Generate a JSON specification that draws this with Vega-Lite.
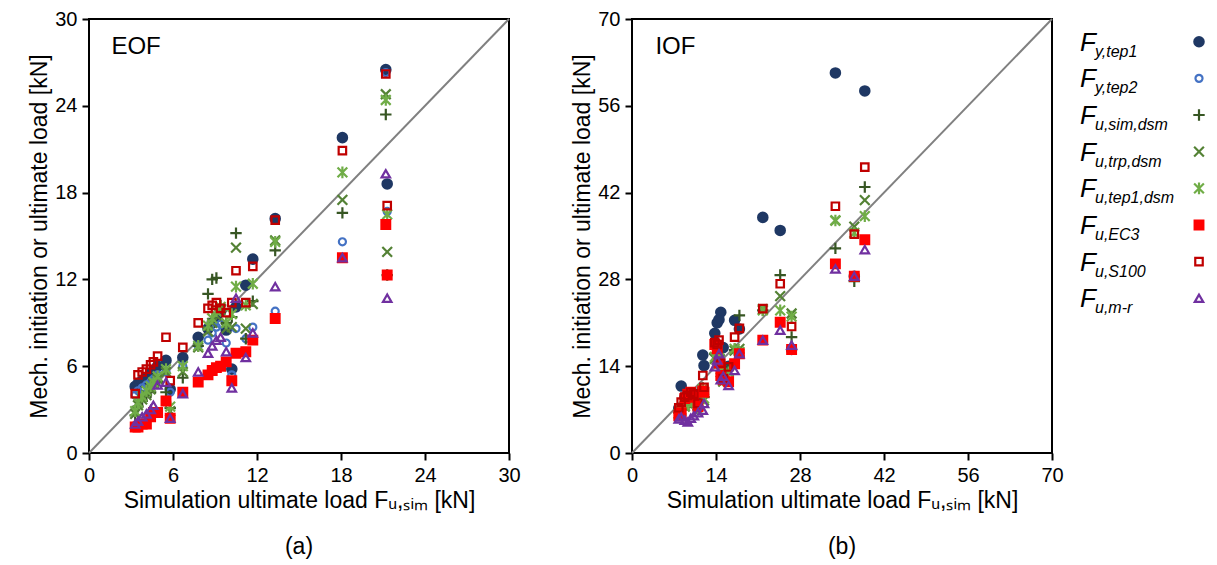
{
"$schema": "https://vega.github.io/schema/vega-lite/v6.json",
"padding": {"left": 27, "top": 8, "right": 0, "bottom": 0},
"background": "white",
"config": {
 "font": "Liberation Sans",
 "view": {"stroke": null},
 "axis": {"labelFont": "Liberation Sans", "titleFont": "Liberation Sans", "labelFontSize": 20, "titleFontSize": 23, "labelColor": "#000", "titleColor": "#000", "titleFontWeight": "normal", "grid": false, "domain": false, "tickColor": "#000", "tickWidth": 2, "tickSize": 7, "labelPadding": 5, "labelFlush": false, "labelOverlap": false},
 "title": {"font": "Liberation Sans", "fontSize": 23, "fontWeight": "normal", "color": "#000", "orient": "bottom", "anchor": "middle", "offset": 24},
 "text": {"font": "Liberation Sans", "color": "#000"}
},
"datasets": {
 "diag": [{"p": "a", "x0": 0, "y0": 0, "x1": 30, "y1": 30}, {"p": "b", "x0": 0, "y0": 0, "x1": 70, "y1": 70}],
 "lab": [{"p": "a", "t": "EOF", "x": 1.6, "y": 27.6}, {"p": "b", "t": "IOF", "x": 3.9, "y": 64.4}],
 "leg": [
  {"s": "Fy1", "sub": "y,tep1"}, {"s": "Fy2", "sub": "y,tep2"}, {"s": "Fsim", "sub": "u,sim,dsm"}, {"s": "Ftrp", "sub": "u,trp,dsm"},
  {"s": "Ftep", "sub": "u,tep1,dsm"}, {"s": "FEC3", "sub": "u,EC3"}, {"s": "FS100", "sub": "u,S100"}, {"s": "Fmr", "sub": "u,m-r"}
 ],
 "pts": [
{"p":"a","s":"Fy1","x":3.3,"y":4.6},{"p":"a","s":"Fy1","x":3.5,"y":4.8},{"p":"a","s":"Fy1","x":3.8,"y":5.0},{"p":"a","s":"Fy1","x":4.1,"y":5.2},{"p":"a","s":"Fy1","x":4.4,"y":5.5},{"p":"a","s":"Fy1","x":4.6,"y":5.7},{"p":"a","s":"Fy1","x":4.9,"y":6.0},{"p":"a","s":"Fy1","x":5.5,"y":6.4},{"p":"a","s":"Fy1","x":5.8,"y":4.4},{"p":"a","s":"Fy1","x":6.7,"y":6.6},{"p":"a","s":"Fy1","x":7.8,"y":8.0},{"p":"a","s":"Fy1","x":8.5,"y":8.6},{"p":"a","s":"Fy1","x":8.8,"y":9.0},{"p":"a","s":"Fy1","x":9.1,"y":9.4},{"p":"a","s":"Fy1","x":9.4,"y":9.8},{"p":"a","s":"Fy1","x":9.8,"y":8.5},{"p":"a","s":"Fy1","x":10.2,"y":5.8},{"p":"a","s":"Fy1","x":10.5,"y":10.1},{"p":"a","s":"Fy1","x":11.2,"y":11.6},{"p":"a","s":"Fy1","x":11.7,"y":13.4},{"p":"a","s":"Fy1","x":13.3,"y":16.2},{"p":"a","s":"Fy1","x":18.1,"y":21.8},{"p":"a","s":"Fy1","x":21.2,"y":26.5},{"p":"a","s":"Fy1","x":21.3,"y":18.6},
{"p":"a","s":"Fy2","x":3.3,"y":4.0},{"p":"a","s":"Fy2","x":3.5,"y":4.3},{"p":"a","s":"Fy2","x":3.8,"y":4.5},{"p":"a","s":"Fy2","x":4.1,"y":4.7},{"p":"a","s":"Fy2","x":4.4,"y":4.9},{"p":"a","s":"Fy2","x":4.6,"y":5.1},{"p":"a","s":"Fy2","x":4.9,"y":5.4},{"p":"a","s":"Fy2","x":5.5,"y":5.6},{"p":"a","s":"Fy2","x":5.8,"y":4.2},{"p":"a","s":"Fy2","x":6.7,"y":6.0},{"p":"a","s":"Fy2","x":7.8,"y":7.4},{"p":"a","s":"Fy2","x":8.5,"y":7.8},{"p":"a","s":"Fy2","x":8.8,"y":8.3},{"p":"a","s":"Fy2","x":9.1,"y":8.7},{"p":"a","s":"Fy2","x":9.4,"y":8.9},{"p":"a","s":"Fy2","x":9.8,"y":7.6},{"p":"a","s":"Fy2","x":10.2,"y":5.4},{"p":"a","s":"Fy2","x":10.5,"y":8.6},{"p":"a","s":"Fy2","x":11.2,"y":7.9},{"p":"a","s":"Fy2","x":11.7,"y":8.7},{"p":"a","s":"Fy2","x":13.3,"y":9.8},{"p":"a","s":"Fy2","x":18.1,"y":14.6},{"p":"a","s":"Fy2","x":21.2,"y":26.3},{"p":"a","s":"Fy2","x":21.3,"y":16.7},
{"p":"a","s":"Fsim","x":3.3,"y":2.6},{"p":"a","s":"Fsim","x":3.5,"y":3.2},{"p":"a","s":"Fsim","x":3.8,"y":3.6},{"p":"a","s":"Fsim","x":4.1,"y":4.0},{"p":"a","s":"Fsim","x":4.4,"y":4.2},{"p":"a","s":"Fsim","x":4.6,"y":4.6},{"p":"a","s":"Fsim","x":4.9,"y":4.9},{"p":"a","s":"Fsim","x":5.5,"y":4.2},{"p":"a","s":"Fsim","x":5.8,"y":3.1},{"p":"a","s":"Fsim","x":6.7,"y":5.2},{"p":"a","s":"Fsim","x":7.8,"y":7.4},{"p":"a","s":"Fsim","x":8.5,"y":11.0},{"p":"a","s":"Fsim","x":8.8,"y":12.0},{"p":"a","s":"Fsim","x":9.1,"y":12.1},{"p":"a","s":"Fsim","x":9.4,"y":10.2},{"p":"a","s":"Fsim","x":9.8,"y":9.0},{"p":"a","s":"Fsim","x":10.2,"y":9.4},{"p":"a","s":"Fsim","x":10.5,"y":15.2},{"p":"a","s":"Fsim","x":11.2,"y":7.9},{"p":"a","s":"Fsim","x":11.7,"y":10.5},{"p":"a","s":"Fsim","x":13.3,"y":14.0},{"p":"a","s":"Fsim","x":18.1,"y":16.6},{"p":"a","s":"Fsim","x":21.2,"y":23.4},{"p":"a","s":"Fsim","x":21.3,"y":12.3},
{"p":"a","s":"Ftrp","x":3.3,"y":2.7},{"p":"a","s":"Ftrp","x":3.5,"y":3.3},{"p":"a","s":"Ftrp","x":3.8,"y":3.7},{"p":"a","s":"Ftrp","x":4.1,"y":4.0},{"p":"a","s":"Ftrp","x":4.4,"y":4.4},{"p":"a","s":"Ftrp","x":4.6,"y":4.8},{"p":"a","s":"Ftrp","x":4.9,"y":5.1},{"p":"a","s":"Ftrp","x":5.5,"y":5.6},{"p":"a","s":"Ftrp","x":5.8,"y":2.9},{"p":"a","s":"Ftrp","x":6.7,"y":5.6},{"p":"a","s":"Ftrp","x":7.8,"y":7.3},{"p":"a","s":"Ftrp","x":8.5,"y":8.4},{"p":"a","s":"Ftrp","x":8.8,"y":9.0},{"p":"a","s":"Ftrp","x":9.1,"y":9.5},{"p":"a","s":"Ftrp","x":9.4,"y":9.9},{"p":"a","s":"Ftrp","x":9.8,"y":8.6},{"p":"a","s":"Ftrp","x":10.2,"y":8.7},{"p":"a","s":"Ftrp","x":10.5,"y":14.2},{"p":"a","s":"Ftrp","x":11.2,"y":8.6},{"p":"a","s":"Ftrp","x":11.7,"y":10.3},{"p":"a","s":"Ftrp","x":13.3,"y":14.7},{"p":"a","s":"Ftrp","x":18.1,"y":17.5},{"p":"a","s":"Ftrp","x":21.2,"y":24.8},{"p":"a","s":"Ftrp","x":21.3,"y":13.9},
{"p":"a","s":"Ftep","x":3.3,"y":2.9},{"p":"a","s":"Ftep","x":3.5,"y":3.5},{"p":"a","s":"Ftep","x":3.8,"y":3.9},{"p":"a","s":"Ftep","x":4.1,"y":4.3},{"p":"a","s":"Ftep","x":4.4,"y":4.6},{"p":"a","s":"Ftep","x":4.6,"y":4.9},{"p":"a","s":"Ftep","x":4.9,"y":5.3},{"p":"a","s":"Ftep","x":5.5,"y":5.8},{"p":"a","s":"Ftep","x":5.8,"y":3.2},{"p":"a","s":"Ftep","x":6.7,"y":6.0},{"p":"a","s":"Ftep","x":7.8,"y":7.4},{"p":"a","s":"Ftep","x":8.5,"y":8.8},{"p":"a","s":"Ftep","x":8.8,"y":9.3},{"p":"a","s":"Ftep","x":9.1,"y":9.8},{"p":"a","s":"Ftep","x":9.4,"y":10.1},{"p":"a","s":"Ftep","x":9.8,"y":9.0},{"p":"a","s":"Ftep","x":10.2,"y":9.6},{"p":"a","s":"Ftep","x":10.5,"y":11.5},{"p":"a","s":"Ftep","x":11.2,"y":10.2},{"p":"a","s":"Ftep","x":11.7,"y":11.7},{"p":"a","s":"Ftep","x":13.3,"y":14.6},{"p":"a","s":"Ftep","x":18.1,"y":19.4},{"p":"a","s":"Ftep","x":21.2,"y":24.4},{"p":"a","s":"Ftep","x":21.3,"y":16.5},
{"p":"a","s":"FEC3","x":3.3,"y":1.8},{"p":"a","s":"FEC3","x":3.5,"y":1.8},{"p":"a","s":"FEC3","x":3.8,"y":2.0},{"p":"a","s":"FEC3","x":4.1,"y":2.0},{"p":"a","s":"FEC3","x":4.4,"y":2.5},{"p":"a","s":"FEC3","x":4.6,"y":2.8},{"p":"a","s":"FEC3","x":4.9,"y":2.8},{"p":"a","s":"FEC3","x":5.5,"y":3.6},{"p":"a","s":"FEC3","x":5.8,"y":2.4},{"p":"a","s":"FEC3","x":6.7,"y":4.2},{"p":"a","s":"FEC3","x":7.8,"y":4.9},{"p":"a","s":"FEC3","x":8.5,"y":5.4},{"p":"a","s":"FEC3","x":8.8,"y":5.7},{"p":"a","s":"FEC3","x":9.1,"y":5.9},{"p":"a","s":"FEC3","x":9.4,"y":6.0},{"p":"a","s":"FEC3","x":9.8,"y":6.3},{"p":"a","s":"FEC3","x":10.2,"y":5.0},{"p":"a","s":"FEC3","x":10.5,"y":6.9},{"p":"a","s":"FEC3","x":11.2,"y":7.0},{"p":"a","s":"FEC3","x":11.7,"y":7.8},{"p":"a","s":"FEC3","x":13.3,"y":9.3},{"p":"a","s":"FEC3","x":18.1,"y":13.5},{"p":"a","s":"FEC3","x":21.2,"y":15.8},{"p":"a","s":"FEC3","x":21.3,"y":12.3},
{"p":"a","s":"FS100","x":3.3,"y":4.1},{"p":"a","s":"FS100","x":3.5,"y":5.4},{"p":"a","s":"FS100","x":3.8,"y":5.6},{"p":"a","s":"FS100","x":4.1,"y":5.8},{"p":"a","s":"FS100","x":4.4,"y":6.1},{"p":"a","s":"FS100","x":4.6,"y":6.3},{"p":"a","s":"FS100","x":4.9,"y":6.7},{"p":"a","s":"FS100","x":5.5,"y":8.0},{"p":"a","s":"FS100","x":5.8,"y":5.0},{"p":"a","s":"FS100","x":6.7,"y":7.3},{"p":"a","s":"FS100","x":7.8,"y":9.0},{"p":"a","s":"FS100","x":8.5,"y":10.0},{"p":"a","s":"FS100","x":8.8,"y":10.2},{"p":"a","s":"FS100","x":9.1,"y":10.4},{"p":"a","s":"FS100","x":9.4,"y":10.0},{"p":"a","s":"FS100","x":9.8,"y":9.7},{"p":"a","s":"FS100","x":10.2,"y":10.4},{"p":"a","s":"FS100","x":10.5,"y":12.6},{"p":"a","s":"FS100","x":11.2,"y":10.4},{"p":"a","s":"FS100","x":11.7,"y":12.9},{"p":"a","s":"FS100","x":13.3,"y":16.1},{"p":"a","s":"FS100","x":18.1,"y":20.9},{"p":"a","s":"FS100","x":21.2,"y":26.2},{"p":"a","s":"FS100","x":21.3,"y":17.1},
{"p":"a","s":"Fmr","x":3.3,"y":2.0},{"p":"a","s":"Fmr","x":3.5,"y":2.2},{"p":"a","s":"Fmr","x":3.8,"y":2.5},{"p":"a","s":"Fmr","x":4.1,"y":2.7},{"p":"a","s":"Fmr","x":4.4,"y":3.0},{"p":"a","s":"Fmr","x":4.6,"y":3.3},{"p":"a","s":"Fmr","x":4.9,"y":4.7},{"p":"a","s":"Fmr","x":5.5,"y":4.9},{"p":"a","s":"Fmr","x":5.8,"y":2.4},{"p":"a","s":"Fmr","x":6.7,"y":4.1},{"p":"a","s":"Fmr","x":7.8,"y":5.6},{"p":"a","s":"Fmr","x":8.5,"y":6.9},{"p":"a","s":"Fmr","x":8.8,"y":7.4},{"p":"a","s":"Fmr","x":9.1,"y":7.8},{"p":"a","s":"Fmr","x":9.4,"y":8.0},{"p":"a","s":"Fmr","x":9.8,"y":7.0},{"p":"a","s":"Fmr","x":10.2,"y":4.5},{"p":"a","s":"Fmr","x":10.5,"y":10.7},{"p":"a","s":"Fmr","x":11.2,"y":6.6},{"p":"a","s":"Fmr","x":11.7,"y":8.3},{"p":"a","s":"Fmr","x":13.3,"y":11.5},{"p":"a","s":"Fmr","x":18.1,"y":13.5},{"p":"a","s":"Fmr","x":21.2,"y":19.3},{"p":"a","s":"Fmr","x":21.3,"y":10.7},
{"p":"b","s":"Fy1","x":7.8,"y":7.2},{"p":"b","s":"Fy1","x":8.2,"y":10.8},{"p":"b","s":"Fy1","x":8.8,"y":9.0},{"p":"b","s":"Fy1","x":9.3,"y":9.5},{"p":"b","s":"Fy1","x":9.8,"y":9.0},{"p":"b","s":"Fy1","x":10.3,"y":8.8},{"p":"b","s":"Fy1","x":11.0,"y":9.5},{"p":"b","s":"Fy1","x":11.8,"y":15.8},{"p":"b","s":"Fy1","x":12.0,"y":14.1},{"p":"b","s":"Fy1","x":13.8,"y":19.3},{"p":"b","s":"Fy1","x":14.2,"y":21.0},{"p":"b","s":"Fy1","x":14.5,"y":21.5},{"p":"b","s":"Fy1","x":14.8,"y":22.7},{"p":"b","s":"Fy1","x":15.2,"y":17.0},{"p":"b","s":"Fy1","x":16.1,"y":14.0},{"p":"b","s":"Fy1","x":17.1,"y":21.4},{"p":"b","s":"Fy1","x":17.9,"y":20.0},{"p":"b","s":"Fy1","x":21.8,"y":38.0},{"p":"b","s":"Fy1","x":24.7,"y":35.9},{"p":"b","s":"Fy1","x":26.6,"y":16.7},{"p":"b","s":"Fy1","x":33.9,"y":61.3},{"p":"b","s":"Fy1","x":37.05,"y":28.5},{"p":"b","s":"Fy1","x":38.8,"y":58.4},
{"p":"b","s":"Fy2","x":7.8,"y":6.0},{"p":"b","s":"Fy2","x":8.2,"y":6.5},{"p":"b","s":"Fy2","x":8.8,"y":8.8},{"p":"b","s":"Fy2","x":9.3,"y":9.5},{"p":"b","s":"Fy2","x":9.8,"y":9.8},{"p":"b","s":"Fy2","x":10.3,"y":9.0},{"p":"b","s":"Fy2","x":11.0,"y":7.5},{"p":"b","s":"Fy2","x":11.8,"y":10.0},{"p":"b","s":"Fy2","x":12.0,"y":9.8},{"p":"b","s":"Fy2","x":13.8,"y":17.5},{"p":"b","s":"Fy2","x":14.2,"y":16.8},{"p":"b","s":"Fy2","x":14.5,"y":14.5},{"p":"b","s":"Fy2","x":14.8,"y":12.5},{"p":"b","s":"Fy2","x":15.2,"y":11.8},{"p":"b","s":"Fy2","x":16.1,"y":11.5},{"p":"b","s":"Fy2","x":17.1,"y":14.4},{"p":"b","s":"Fy2","x":17.9,"y":16.0},{"p":"b","s":"Fy2","x":21.8,"y":18.2},{"p":"b","s":"Fy2","x":24.7,"y":21.1},{"p":"b","s":"Fy2","x":26.6,"y":16.7},{"p":"b","s":"Fy2","x":33.9,"y":30.5},{"p":"b","s":"Fy2","x":37.05,"y":28.5},{"p":"b","s":"Fy2","x":38.8,"y":34.4},
{"p":"b","s":"Fsim","x":7.8,"y":6.5},{"p":"b","s":"Fsim","x":8.2,"y":7.0},{"p":"b","s":"Fsim","x":8.8,"y":7.8},{"p":"b","s":"Fsim","x":9.3,"y":8.5},{"p":"b","s":"Fsim","x":9.8,"y":9.0},{"p":"b","s":"Fsim","x":10.3,"y":8.4},{"p":"b","s":"Fsim","x":11.0,"y":7.0},{"p":"b","s":"Fsim","x":11.8,"y":10.5},{"p":"b","s":"Fsim","x":12.0,"y":9.0},{"p":"b","s":"Fsim","x":13.8,"y":16.0},{"p":"b","s":"Fsim","x":14.2,"y":15.0},{"p":"b","s":"Fsim","x":14.5,"y":15.8},{"p":"b","s":"Fsim","x":14.8,"y":14.0},{"p":"b","s":"Fsim","x":15.2,"y":11.8},{"p":"b","s":"Fsim","x":16.1,"y":13.5},{"p":"b","s":"Fsim","x":17.1,"y":16.6},{"p":"b","s":"Fsim","x":17.9,"y":22.2},{"p":"b","s":"Fsim","x":21.8,"y":23.0},{"p":"b","s":"Fsim","x":24.7,"y":28.7},{"p":"b","s":"Fsim","x":26.6,"y":18.7},{"p":"b","s":"Fsim","x":33.9,"y":33.0},{"p":"b","s":"Fsim","x":37.05,"y":27.7},{"p":"b","s":"Fsim","x":38.8,"y":42.9},
{"p":"b","s":"Ftrp","x":7.8,"y":6.3},{"p":"b","s":"Ftrp","x":8.2,"y":6.8},{"p":"b","s":"Ftrp","x":8.8,"y":7.5},{"p":"b","s":"Ftrp","x":9.3,"y":8.0},{"p":"b","s":"Ftrp","x":9.8,"y":8.6},{"p":"b","s":"Ftrp","x":10.3,"y":8.0},{"p":"b","s":"Ftrp","x":11.0,"y":6.8},{"p":"b","s":"Ftrp","x":11.8,"y":10.2},{"p":"b","s":"Ftrp","x":12.0,"y":8.5},{"p":"b","s":"Ftrp","x":13.8,"y":15.2},{"p":"b","s":"Ftrp","x":14.2,"y":14.6},{"p":"b","s":"Ftrp","x":14.5,"y":15.0},{"p":"b","s":"Ftrp","x":14.8,"y":13.0},{"p":"b","s":"Ftrp","x":15.2,"y":11.5},{"p":"b","s":"Ftrp","x":16.1,"y":13.2},{"p":"b","s":"Ftrp","x":17.1,"y":16.5},{"p":"b","s":"Ftrp","x":17.9,"y":16.8},{"p":"b","s":"Ftrp","x":21.8,"y":23.2},{"p":"b","s":"Ftrp","x":24.7,"y":25.3},{"p":"b","s":"Ftrp","x":26.6,"y":22.5},{"p":"b","s":"Ftrp","x":33.9,"y":37.5},{"p":"b","s":"Ftrp","x":37.05,"y":36.5},{"p":"b","s":"Ftrp","x":38.8,"y":40.8},
{"p":"b","s":"Ftep","x":7.8,"y":6.4},{"p":"b","s":"Ftep","x":8.2,"y":7.0},{"p":"b","s":"Ftep","x":8.8,"y":7.6},{"p":"b","s":"Ftep","x":9.3,"y":8.2},{"p":"b","s":"Ftep","x":9.8,"y":8.5},{"p":"b","s":"Ftep","x":10.3,"y":8.2},{"p":"b","s":"Ftep","x":11.0,"y":7.0},{"p":"b","s":"Ftep","x":11.8,"y":10.3},{"p":"b","s":"Ftep","x":12.0,"y":8.8},{"p":"b","s":"Ftep","x":13.8,"y":15.5},{"p":"b","s":"Ftep","x":14.2,"y":14.9},{"p":"b","s":"Ftep","x":14.5,"y":15.3},{"p":"b","s":"Ftep","x":14.8,"y":13.5},{"p":"b","s":"Ftep","x":15.2,"y":11.7},{"p":"b","s":"Ftep","x":16.1,"y":13.0},{"p":"b","s":"Ftep","x":17.1,"y":16.8},{"p":"b","s":"Ftep","x":17.9,"y":16.3},{"p":"b","s":"Ftep","x":21.8,"y":23.0},{"p":"b","s":"Ftep","x":24.7,"y":23.0},{"p":"b","s":"Ftep","x":26.6,"y":22.0},{"p":"b","s":"Ftep","x":33.9,"y":37.5},{"p":"b","s":"Ftep","x":37.05,"y":35.5},{"p":"b","s":"Ftep","x":38.8,"y":38.2},
{"p":"b","s":"FEC3","x":7.8,"y":6.0},{"p":"b","s":"FEC3","x":8.2,"y":6.5},{"p":"b","s":"FEC3","x":8.8,"y":8.8},{"p":"b","s":"FEC3","x":9.3,"y":9.5},{"p":"b","s":"FEC3","x":9.8,"y":9.8},{"p":"b","s":"FEC3","x":10.3,"y":9.0},{"p":"b","s":"FEC3","x":11.0,"y":7.5},{"p":"b","s":"FEC3","x":11.8,"y":10.0},{"p":"b","s":"FEC3","x":12.0,"y":9.8},{"p":"b","s":"FEC3","x":13.8,"y":17.5},{"p":"b","s":"FEC3","x":14.2,"y":16.8},{"p":"b","s":"FEC3","x":14.5,"y":14.5},{"p":"b","s":"FEC3","x":14.8,"y":12.5},{"p":"b","s":"FEC3","x":15.2,"y":11.8},{"p":"b","s":"FEC3","x":16.1,"y":11.5},{"p":"b","s":"FEC3","x":17.1,"y":14.4},{"p":"b","s":"FEC3","x":17.9,"y":16.0},{"p":"b","s":"FEC3","x":21.8,"y":18.2},{"p":"b","s":"FEC3","x":24.7,"y":21.1},{"p":"b","s":"FEC3","x":26.6,"y":16.7},{"p":"b","s":"FEC3","x":33.9,"y":30.5},{"p":"b","s":"FEC3","x":37.05,"y":28.5},{"p":"b","s":"FEC3","x":38.8,"y":34.4},
{"p":"b","s":"FS100","x":7.8,"y":7.3},{"p":"b","s":"FS100","x":8.2,"y":8.2},{"p":"b","s":"FS100","x":8.8,"y":9.0},{"p":"b","s":"FS100","x":9.3,"y":9.3},{"p":"b","s":"FS100","x":9.8,"y":9.8},{"p":"b","s":"FS100","x":10.3,"y":9.5},{"p":"b","s":"FS100","x":11.0,"y":8.0},{"p":"b","s":"FS100","x":11.8,"y":12.5},{"p":"b","s":"FS100","x":12.0,"y":10.6},{"p":"b","s":"FS100","x":13.8,"y":17.8},{"p":"b","s":"FS100","x":14.2,"y":17.5},{"p":"b","s":"FS100","x":14.5,"y":18.2},{"p":"b","s":"FS100","x":14.8,"y":14.5},{"p":"b","s":"FS100","x":15.2,"y":12.0},{"p":"b","s":"FS100","x":16.1,"y":13.9},{"p":"b","s":"FS100","x":17.1,"y":18.7},{"p":"b","s":"FS100","x":17.9,"y":20.1},{"p":"b","s":"FS100","x":21.8,"y":23.3},{"p":"b","s":"FS100","x":24.7,"y":27.3},{"p":"b","s":"FS100","x":26.6,"y":20.4},{"p":"b","s":"FS100","x":33.9,"y":39.8},{"p":"b","s":"FS100","x":37.05,"y":35.3},{"p":"b","s":"FS100","x":38.8,"y":46.1},
{"p":"b","s":"Fmr","x":7.8,"y":5.5},{"p":"b","s":"Fmr","x":8.2,"y":5.8},{"p":"b","s":"Fmr","x":8.8,"y":5.3},{"p":"b","s":"Fmr","x":9.3,"y":5.0},{"p":"b","s":"Fmr","x":9.8,"y":5.6},{"p":"b","s":"Fmr","x":10.3,"y":6.0},{"p":"b","s":"Fmr","x":11.0,"y":6.5},{"p":"b","s":"Fmr","x":11.8,"y":6.9},{"p":"b","s":"Fmr","x":12.0,"y":8.0},{"p":"b","s":"Fmr","x":13.8,"y":13.9},{"p":"b","s":"Fmr","x":14.2,"y":15.0},{"p":"b","s":"Fmr","x":14.5,"y":16.0},{"p":"b","s":"Fmr","x":14.8,"y":11.8},{"p":"b","s":"Fmr","x":15.2,"y":12.4},{"p":"b","s":"Fmr","x":16.1,"y":10.9},{"p":"b","s":"Fmr","x":17.1,"y":13.3},{"p":"b","s":"Fmr","x":17.9,"y":16.0},{"p":"b","s":"Fmr","x":21.8,"y":18.2},{"p":"b","s":"Fmr","x":24.7,"y":19.8},{"p":"b","s":"Fmr","x":26.6,"y":17.4},{"p":"b","s":"Fmr","x":33.9,"y":29.7},{"p":"b","s":"Fmr","x":37.05,"y":28.5},{"p":"b","s":"Fmr","x":38.8,"y":32.8}
 ]
},
"spacing": 123,
"bounds": "flush",
"hconcat": [
 {
  "width": 420, "height": 434,
  "view": {"stroke": "#000", "strokeWidth": 2},
  "title": {"text": "(a)"},
  "layer": [
   {"data": {"name": "diag"}, "transform": [{"filter": "datum.p == 'a'"}],
    "mark": {"type": "rule", "color": "#808080", "strokeWidth": 2},
    "encoding": {
     "x": {"field": "x0", "type": "quantitative", "scale": {"domain": [0, 30], "nice": false}, "axis": {"values": [0, 6, 12, 18, 24, 30], "title": "Simulation ultimate load Fᵤ,ₛᵢₘ [kN]", "titlePadding": 4}},
     "y": {"field": "y0", "type": "quantitative", "scale": {"domain": [0, 30], "nice": false}, "axis": {"values": [0, 6, 12, 18, 24, 30], "title": "Mech. initiation or ultimate load [kN]", "titlePadding": 3}},
     "x2": {"field": "x1"}, "y2": {"field": "y1"}}},
   {"data": {"name": "pts"}, "transform": [{"filter": "datum.p == 'a'"}],
    "mark": {"type": "point", "opacity": 1, "strokeWidth": 2.2},
    "encoding": {
     "x": {"field": "x", "type": "quantitative"},
     "y": {"field": "y", "type": "quantitative"},
     "shape": {"field": "s", "type": "nominal", "legend": null, "scale": {"domain": ["Fy1","Fy2","Fsim","Ftrp","Ftep","FEC3","FS100","Fmr"], "range": ["circle","circle","M-1,0L1,0M0,-1L0,1","M-1,-1L1,1M-1,1L1,-1","M-1,-1L1,1M-1,1L1,-1M0,-1.2L0,1.2","square","square","triangle-up"]}},
     "stroke": {"field": "s", "type": "nominal", "legend": null, "scale": {"domain": ["Fy1","Fy2","Fsim","Ftrp","Ftep","FEC3","FS100","Fmr"], "range": ["#1F3864","#4472C4","#375623","#548235","#70AD47","#FF0000","#C00000","#7030A0"]}},
     "fill": {"field": "s", "type": "nominal", "legend": null, "scale": {"domain": ["Fy1","Fy2","Fsim","Ftrp","Ftep","FEC3","FS100","Fmr"], "range": ["#1F3864","transparent","transparent","transparent","transparent","#FF0000","transparent","transparent"]}},
     "size": {"field": "s", "type": "nominal", "legend": null, "scale": {"type": "ordinal", "domain": ["Fy1","Fy2","Fsim","Ftrp","Ftep","FEC3","FS100","Fmr"], "range": [88, 50, 130, 95, 95, 76, 56, 72]}}
    }},
   {"data": {"name": "lab"}, "transform": [{"filter": "datum.p == 'a'"}],
    "mark": {"type": "text", "align": "left", "baseline": "alphabetic", "fontSize": 24},
    "encoding": {"x": {"field": "x", "type": "quantitative"}, "y": {"field": "y", "type": "quantitative"}, "text": {"field": "t"}}}
  ]
 },
 {
  "width": 420, "height": 434,
  "view": {"stroke": "#000", "strokeWidth": 2},
  "title": {"text": "(b)"},
  "layer": [
   {"data": {"name": "diag"}, "transform": [{"filter": "datum.p == 'b'"}],
    "mark": {"type": "rule", "color": "#808080", "strokeWidth": 2},
    "encoding": {
     "x": {"field": "x0", "type": "quantitative", "scale": {"domain": [0, 70], "nice": false}, "axis": {"values": [0, 14, 28, 42, 56, 70], "title": "Simulation ultimate load Fᵤ,ₛᵢₘ [kN]", "titlePadding": 4}},
     "y": {"field": "y0", "type": "quantitative", "scale": {"domain": [0, 70], "nice": false}, "axis": {"values": [0, 14, 28, 42, 56, 70], "title": "Mech. initiation or ultimate load [kN]", "titlePadding": 3}},
     "x2": {"field": "x1"}, "y2": {"field": "y1"}}},
   {"data": {"name": "pts"}, "transform": [{"filter": "datum.p == 'b'"}],
    "mark": {"type": "point", "opacity": 1, "strokeWidth": 2.2},
    "encoding": {
     "x": {"field": "x", "type": "quantitative"},
     "y": {"field": "y", "type": "quantitative"},
     "shape": {"field": "s", "type": "nominal", "legend": null, "scale": {"domain": ["Fy1","Fy2","Fsim","Ftrp","Ftep","FEC3","FS100","Fmr"], "range": ["circle","circle","M-1,0L1,0M0,-1L0,1","M-1,-1L1,1M-1,1L1,-1","M-1,-1L1,1M-1,1L1,-1M0,-1.2L0,1.2","square","square","triangle-up"]}},
     "stroke": {"field": "s", "type": "nominal", "legend": null, "scale": {"domain": ["Fy1","Fy2","Fsim","Ftrp","Ftep","FEC3","FS100","Fmr"], "range": ["#1F3864","#4472C4","#375623","#548235","#70AD47","#FF0000","#C00000","#7030A0"]}},
     "fill": {"field": "s", "type": "nominal", "legend": null, "scale": {"domain": ["Fy1","Fy2","Fsim","Ftrp","Ftep","FEC3","FS100","Fmr"], "range": ["#1F3864","transparent","transparent","transparent","transparent","#FF0000","transparent","transparent"]}},
     "size": {"field": "s", "type": "nominal", "legend": null, "scale": {"type": "ordinal", "domain": ["Fy1","Fy2","Fsim","Ftrp","Ftep","FEC3","FS100","Fmr"], "range": [88, 50, 130, 95, 95, 76, 56, 72]}}
    }},
   {"data": {"name": "lab"}, "transform": [{"filter": "datum.p == 'b'"}],
    "mark": {"type": "text", "align": "left", "baseline": "alphabetic", "fontSize": 24},
    "encoding": {"x": {"field": "x", "type": "quantitative"}, "y": {"field": "y", "type": "quantitative"}, "text": {"field": "t"}}}
  ]
 },
 {
  "width": 40, "height": 302,
  "data": {"name": "leg"},
  "layer": [
   {"mark": {"type": "point", "opacity": 1, "strokeWidth": 2.2, "xOffset": 4},
    "encoding": {
     "y": {"field": "s", "type": "nominal", "axis": null, "scale": {"type": "point", "padding": 0.62, "domain": ["Fy1","Fy2","Fsim","Ftrp","Ftep","FEC3","FS100","Fmr"]}},
     "shape": {"field": "s", "type": "nominal", "legend": null, "scale": {"domain": ["Fy1","Fy2","Fsim","Ftrp","Ftep","FEC3","FS100","Fmr"], "range": ["circle","circle","M-1,0L1,0M0,-1L0,1","M-1,-1L1,1M-1,1L1,-1","M-1,-1L1,1M-1,1L1,-1M0,-1.2L0,1.2","square","square","triangle-up"]}},
     "stroke": {"field": "s", "type": "nominal", "legend": null, "scale": {"domain": ["Fy1","Fy2","Fsim","Ftrp","Ftep","FEC3","FS100","Fmr"], "range": ["#1F3864","#4472C4","#375623","#548235","#70AD47","#FF0000","#C00000","#7030A0"]}},
     "fill": {"field": "s", "type": "nominal", "legend": null, "scale": {"domain": ["Fy1","Fy2","Fsim","Ftrp","Ftep","FEC3","FS100","Fmr"], "range": ["#1F3864","transparent","transparent","transparent","transparent","#FF0000","transparent","transparent"]}},
     "size": {"field": "s", "type": "nominal", "legend": null, "scale": {"type": "ordinal", "domain": ["Fy1","Fy2","Fsim","Ftrp","Ftep","FEC3","FS100","Fmr"], "range": [88, 50, 130, 95, 95, 76, 56, 72]}}
    }},
   {"mark": {"type": "text", "align": "left", "baseline": "alphabetic", "fontSize": 26, "fontStyle": "italic", "dx": -115, "dy": 9},
    "encoding": {"y": {"field": "s", "type": "nominal"}, "text": {"value": "F"}}},
   {"mark": {"type": "text", "align": "left", "baseline": "alphabetic", "fontSize": 16, "fontStyle": "italic", "dx": -100, "dy": 15},
    "encoding": {"y": {"field": "s", "type": "nominal"}, "text": {"field": "sub"}}}
  ]
 }
]
}
